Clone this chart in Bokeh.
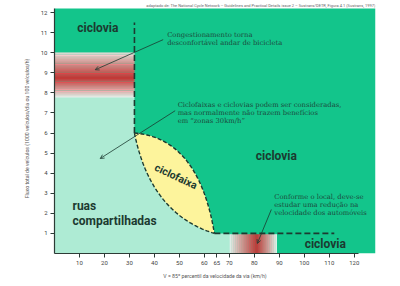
import numpy as np
from bokeh.plotting import figure
from bokeh.models import FixedTicker, Arrow, OpenHead, Range1d
from bokeh.embed import file_html
from bokeh.resources import INLINE
from bokeh.core.properties import value

# ---- data ----
x_ticks = [10, 20, 30, 40, 50, 60, 65, 70, 80, 90, 100, 110, 120]
y_ticks = [1, 2, 3, 4, 5, 6, 7, 8, 9, 10, 11, 12]
x_max = 128.5
y_top = 12.2
y_view = 12.45
x_axis_end = 121.6

bike_lane_speed = 32          # dashed vertical boundary (km/h)
dashed_v_top = 11.5
lens_top = (32, 6)
lens_bottom = (64, 1)
lens_outer_ctrl = (57.7, 5.75)
lens_inner_ctrl = (38.5, 1.97)
flow_floor = 1                # dashed horizontal boundary
dashed_h_end = 112
mint_bottom_end = 70
congestion_band = (7.76, 10.0)
congestion_peak = 8.75
speed_band = (70, 89)
speed_band_top = 0.96
speed_peak = 81

source_text = ("adaptado de: The National Cycle Network \u2013 Guidelines and Practical Details "
               "issue 2 \u2013 Sustrans/DETR, Figura 4.1 (Sustrans, 1997)")

GREEN = "#13c58b"
MINT = "#aeebd4"
YELLOW = "#fdf49c"
RED = np.array([215, 38, 43])
DARK = "#1c3a30"
NOTE = "#1d4a3c"


def qbez(p0, p1, p2, n=50):
    t = np.linspace(0, 1, n)
    x = (1 - t) ** 2 * p0[0] + 2 * (1 - t) * t * p1[0] + t ** 2 * p2[0]
    y = (1 - t) ** 2 * p0[1] + 2 * (1 - t) * t * p1[1] + t ** 2 * p2[1]
    return x, y


def mix(a):
    c = (255 * (1 - a) + RED * a).astype(int)
    return "#%02x%02x%02x" % tuple(c)


p = figure(width=400, height=286, x_range=Range1d(0, x_max), y_range=Range1d(0, y_view),
           min_border_left=54, min_border_right=25, min_border_top=3, min_border_bottom=33,
           toolbar_location=None, output_backend="svg")
p.outline_line_color = None
p.xgrid.visible = False
p.ygrid.visible = False

# green background (ciclovia)
p.quad(left=0, right=x_max, bottom=0, top=y_top, fill_color=GREEN, line_color=None)

# mint region (ruas compartilhadas)
ox, oy = qbez(lens_top, lens_outer_ctrl, lens_bottom)
ix, iy = qbez(lens_top, lens_inner_ctrl, lens_bottom)
mx = [0, mint_bottom_end, mint_bottom_end] + list(ox[::-1]) + [lens_top[0], 0]
my = [0, 0, flow_floor] + list(oy[::-1]) + [congestion_band[0], congestion_band[0]]
p.patch(mx, my, fill_color=MINT, line_color=None)

# lens (ciclofaixa)
lx = list(ox) + list(ix[::-1])
ly = list(oy) + list(iy[::-1])
p.patch(lx, ly, fill_color=YELLOW, line_color=None)

# red gradient band (congestion)
n = 70
edges = np.linspace(congestion_band[0], congestion_band[1], n + 1)
mids = (edges[:-1] + edges[1:]) / 2
cols = []
for y in mids:
    half = 1.4 if y > congestion_peak else 1.0
    u = min(abs(y - congestion_peak) / half, 1)
    cols.append(mix((1 - u) ** 0.9))
p.quad(left=0, right=bike_lane_speed, bottom=edges[:-1], top=edges[1:] + 0.01,
       fill_color=cols, line_color=None)

# red gradient band (speed)
edges = np.linspace(speed_band[0], speed_band[1], n + 1)
mids = (edges[:-1] + edges[1:]) / 2
cols = []
for x in mids:
    half = (speed_peak - speed_band[0]) if x < speed_peak else (speed_band[1] - speed_peak)
    u = min(abs(x - speed_peak) / half, 1)
    cols.append(mix((1 - u) ** 0.9))
p.quad(left=edges[:-1], right=edges[1:] + 0.05, bottom=0, top=speed_band_top,
       fill_color=cols, line_color=None)

# dashed boundaries
p.line([bike_lane_speed, bike_lane_speed], [lens_top[1], dashed_v_top],
       line_color=DARK, line_width=1.6, line_dash="6 3")
p.line([lens_bottom[0], dashed_h_end], [flow_floor, flow_floor],
       line_color=DARK, line_width=1.6, line_dash="6 3")
p.line(ox, oy, line_color=DARK, line_width=1.4, line_dash="4 2")
p.line(ix, iy, line_color=DARK, line_width=1.4, line_dash="4 2")

# region labels
bold = dict(text_font=value("Roboto"), text_font_style="bold", text_color=DARK,
            text_font_size="12px", text_baseline="middle")
p.text(x=[9.1], y=[11.24], text=["ciclovia"], text_align="left", **bold)
p.text(x=[88.8], y=[4.88], text=["ciclovia"], text_align="center", **bold)
p.text(x=[108.4], y=[0.48], text=["ciclovia"], text_align="center", **bold)
p.text(x=[7.2, 7.2], y=[2.39, 1.61], text=["ruas", "compartilhadas"], text_align="left", **bold)
p.text(x=[48.6], y=[3.83], text=["ciclofaixa"], text_align="center", angle=-0.44,
       text_font=value("Roboto"), text_font_style="bold", text_color=DARK,
       text_font_size="10.5px", text_baseline="middle")

# notes
note = dict(text_font=value("DejaVu Serif"), text_color=NOTE, text_font_size="6.8px",
            text_baseline="middle", text_align="left")
p.text(x=[45.1, 45.1], y=[10.9, 10.48],
       text=["Congestionamento torna", "desconfortável andar de bicicleta"], **note)
p.text(x=[49.3] * 3, y=[7.40, 7.0, 6.58],
       text=["Ciclofaixas e ciclovias podem ser consideradas,",
             "mas normalmente não trazem benefícios",
             "em \u201czonas 30km/h\u201d"], **note)
p.text(x=[88.0] * 3, y=[2.80, 2.42, 2.02],
       text=["Conforme o local, deve-se", "estudar uma redução na",
             "velocidade dos automóveis"], **note)

# arrows
for xs, ys, xe, ye in [(43.5, 10.65, 16.3, 9.15), (48.3, 7.11, 18.3, 4.73), (86.8, 2.19, 81.2, 0.5)]:
    p.add_layout(Arrow(end=OpenHead(size=4, line_color=DARK, line_width=0.8),
                       x_start=xs, y_start=ys, x_end=xe, y_end=ye,
                       line_color=DARK, line_width=0.8))

# source
p.text(x=[x_max], y=[12.33], text=[source_text], text_font=value("Roboto"),
       text_font_size="4px", text_color="#666666", text_align="right", text_baseline="middle")

# axes
for ax in (p.xaxis[0], p.yaxis[0]):
    ax.axis_line_color = "#2d3b36"
    ax.axis_line_width = 1.2
    ax.major_tick_line_color = "#2d3b36"
    ax.major_tick_out = 4
    ax.major_tick_in = 0
    ax.minor_tick_line_color = None
    ax.major_label_text_font_size = "6px"
    ax.major_label_text_color = "#444444"
    ax.major_label_text_font = "Roboto"
    ax.axis_label_text_font_size = "5.2px"
    ax.axis_label_text_font_style = "normal"
    ax.axis_label_text_color = "#555555"
    ax.axis_label_text_font = "Roboto"
p.xaxis.ticker = FixedTicker(ticks=x_ticks)
p.yaxis.ticker = FixedTicker(ticks=y_ticks)
p.xaxis.bounds = (0, x_axis_end)
p.yaxis.bounds = (0, y_top)
p.xaxis.axis_label = "V = 85º percentil da velocidade da via (km/h)"
p.yaxis.axis_label = "Fluxo total de veículos (1000 veículos/dia ou 100 veículos/h)"
p.xaxis.major_label_standoff = 3
p.yaxis.major_label_standoff = 3
p.xaxis.axis_label_standoff = 5
p.yaxis.axis_label_standoff = 8

open("out.html", "w").write(file_html(p, INLINE))
